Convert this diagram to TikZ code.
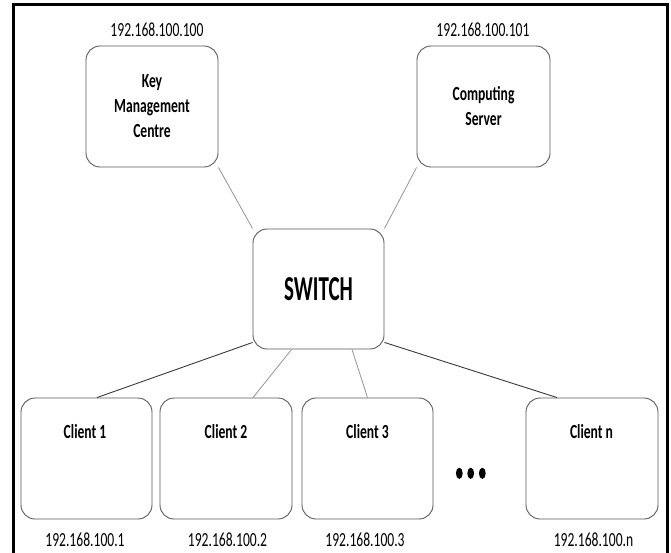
\documentclass[tikz,border=0pt]{standalone}
\usepackage{fontspec}
\setmainfont{Carlito}[FakeStretch=0.68]
\newfontfamily\swfont{Carlito}[FakeStretch=0.6]
\usetikzlibrary{calc}
\definecolor{boxline}{HTML}{5A5A5A}
\definecolor{lightln}{HTML}{959595}
\definecolor{darkln}{HTML}{3A3A3A}
\begin{document}
\begin{tikzpicture}[x=1pt,y=-1pt,
  box/.style={draw=boxline,line width=0.9pt,rounded corners=14pt,rectangle,inner sep=0pt,align=center,
    font=\fontsize{20}{25}\selectfont\bfseries},
  iplabel/.style={inner sep=0pt,font=\fontsize{20}{23}\selectfont},
  title/.style={inner sep=0pt,font=\fontsize{20}{23}\selectfont\bfseries},
  lightc/.style={draw=lightln,line width=0.8pt},
  darkc/.style={draw=darkln,line width=0.9pt}]
\useasboundingbox (0,0) rectangle (671,553);
\fill[white] (0,0) rectangle (671,553);
\draw[line width=3pt] (13,556) -- (13,5) -- (667,5) -- (667,556);

% boxes
\node[box,minimum width=132pt,minimum height=121pt] (kmc) at (152,106.5) {Key\\Management\\Centre};
\node[box,minimum width=133pt,minimum height=121pt] (cs) at (483.5,106.5) {Computing\\Server};
\node[box,minimum width=131pt,minimum height=120pt,font=\fontsize{35}{40}\swfont\bfseries] (sw) at (318.5,289) {SWITCH};
\node[box,minimum width=131pt,minimum height=121pt] (c1) at (86.5,458.5) {};
\node[box,minimum width=132pt,minimum height=121pt] (c2) at (226,458.5) {};
\node[box,minimum width=131pt,minimum height=121pt] (c3) at (367.5,458.5) {};
\node[box,minimum width=132pt,minimum height=121pt] (cn) at (592,458.5) {};

% client titles
\node[title] (t1) at (85,432) {Client 1};
\node[title] (t2) at (226,432) {Client 2};
\node[title] (t3) at (367.5,432) {Client 3};
\node[title] (tn) at (591.5,432) {Client n};

% IP labels
\node[iplabel] (ipk) at (157,30) {192.168.100.100};
\node[iplabel] (ipc) at (483,30) {192.168.100.101};
\node[iplabel] (ip1) at (85,540) {192.168.100.1};
\node[iplabel] (ip2) at (227.5,540) {192.168.100.2};
\node[iplabel] (ip3) at (365,540) {192.168.100.3};
\node[iplabel] (ipn) at (593.5,540) {192.168.100.n};

% dots
\fill (459.3,473.3) ellipse [x radius=3.4pt, y radius=5.6pt];
\fill (470.7,473.3) ellipse [x radius=3.4pt, y radius=5.6pt];
\fill (482.3,473.3) ellipse [x radius=3.4pt, y radius=5.6pt];

% connectors
\draw[lightc] (kmc.south east) -- (sw.north west);
\draw[lightc] (cs.south west) -- (sw.north east);
\draw[darkc] ($(sw.south west)+(0,-7)$) -- ($(c1.north)+(10.5,0)$);
\draw[lightc] ($(sw.south west)+(39,0)$) -- ($(c2.north)+(27,0)$);
\draw[lightc] ($(sw.south)+(33.5,0)$) -- (c3.north);
\draw[darkc] ($(sw.south east)+(0,-7)$) -- ($(cn.north)+(-35,0)$);
\end{tikzpicture}
\end{document}
